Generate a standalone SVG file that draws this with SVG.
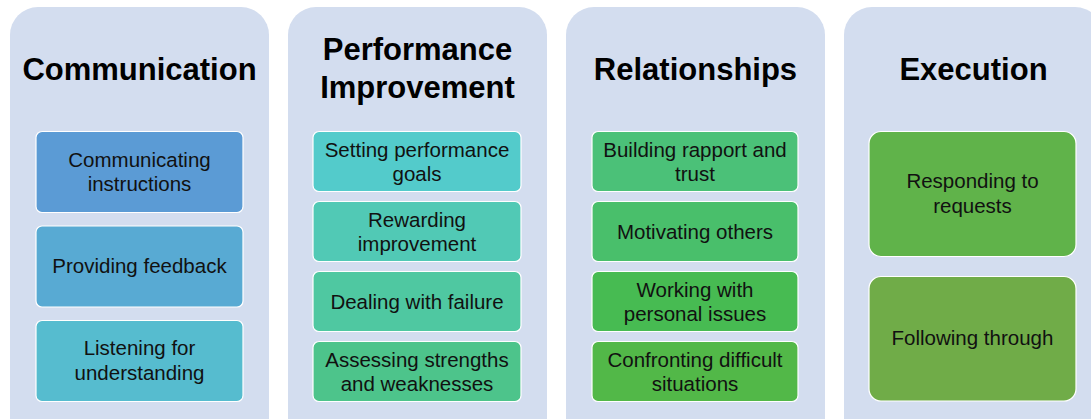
<svg xmlns="http://www.w3.org/2000/svg" width="1091" height="419" viewBox="0 0 1091 419">
<style>
.bg{fill:#d3ddef}
.box{stroke:#ffffff;stroke-width:1.2}
.title{font-family:"Liberation Sans",Arial,sans-serif;font-weight:bold;font-size:31px;fill:#000;text-anchor:middle}
.lbl{font-family:"Liberation Sans",Arial,sans-serif;font-size:20.5px;fill:#111;text-anchor:middle}
</style>
<rect width="1091" height="419" fill="#ffffff"/>
<g id="col-communication">
<rect class="bg" x="10" y="7" width="259" height="440" rx="28"/>
<text class="title" x="139.5" y="80">Communication</text>
</g>
<g id="col-performance">
<rect class="bg" x="288" y="7" width="259" height="440" rx="28"/>
<text class="title" x="417.5" y="60">Performance</text>
<text class="title" x="417.5" y="98">Improvement</text>
</g>
<g id="col-relationships">
<rect class="bg" x="566" y="7" width="259" height="440" rx="28"/>
<text class="title" x="695.5" y="80">Relationships</text>
</g>
<g id="col-execution">
<rect class="bg" x="844" y="7" width="259" height="440" rx="28"/>
<text class="title" x="973.5" y="80">Execution</text>
</g>

<g id="n-communicating-instructions">
<rect class="box" x="36" y="131.5" width="207" height="81" rx="6" fill="#5b9bd5"/>
<text class="lbl" x="139.5" y="166.5">Communicating</text>
<text class="lbl" x="139.5" y="191">instructions</text>
</g>
<g id="n-providing-feedback">
<rect class="box" x="36" y="226" width="207" height="81" rx="6" fill="#58aad3"/>
<text class="lbl" x="139.5" y="273">Providing feedback</text>
</g>
<g id="n-listening">
<rect class="box" x="36" y="320.5" width="207" height="81" rx="6" fill="#56bccf"/>
<text class="lbl" x="139.5" y="355">Listening for</text>
<text class="lbl" x="139.5" y="379.5">understanding</text>
</g>

<g id="n-setting-goals">
<rect class="box" x="313" y="131.5" width="208" height="60" rx="6" fill="#53cbcb"/>
<text class="lbl" x="417" y="156.5">Setting performance</text>
<text class="lbl" x="417" y="180.5">goals</text>
</g>
<g id="n-rewarding">
<rect class="box" x="313" y="201.5" width="208" height="60" rx="6" fill="#51c9b5"/>
<text class="lbl" x="417" y="226.5">Rewarding</text>
<text class="lbl" x="417" y="250.5">improvement</text>
</g>
<g id="n-dealing-failure">
<rect class="box" x="313" y="271.5" width="208" height="60" rx="6" fill="#4fc8a1"/>
<text class="lbl" x="417" y="308.5">Dealing with failure</text>
</g>
<g id="n-assessing">
<rect class="box" x="313" y="341.5" width="208" height="60" rx="6" fill="#4dc48b"/>
<text class="lbl" x="417" y="366.5">Assessing strengths</text>
<text class="lbl" x="417" y="390.5">and weaknesses</text>
</g>

<g id="n-building-rapport">
<rect class="box" x="592" y="131.5" width="206" height="60" rx="6" fill="#4bc178"/>
<text class="lbl" x="695" y="156.5">Building rapport and</text>
<text class="lbl" x="695" y="180.5">trust</text>
</g>
<g id="n-motivating">
<rect class="box" x="592" y="201.5" width="206" height="60" rx="6" fill="#49bf6b"/>
<text class="lbl" x="695" y="238.5">Motivating others</text>
</g>
<g id="n-personal-issues">
<rect class="box" x="592" y="271.5" width="206" height="60" rx="6" fill="#47bb52"/>
<text class="lbl" x="695" y="296.5">Working with</text>
<text class="lbl" x="695" y="320.5">personal issues</text>
</g>
<g id="n-confronting">
<rect class="box" x="592" y="341.5" width="206" height="60" rx="6" fill="#52b848"/>
<text class="lbl" x="695" y="366.5">Confronting difficult</text>
<text class="lbl" x="695" y="390.5">situations</text>
</g>

<g id="n-responding">
<rect class="box" x="869" y="131.5" width="207" height="125" rx="12" fill="#60b34a"/>
<text class="lbl" x="972.5" y="188">Responding to</text>
<text class="lbl" x="972.5" y="212.5">requests</text>
</g>
<g id="n-following-through">
<rect class="box" x="869" y="276.5" width="207" height="124.5" rx="12" fill="#70ac48"/>
<text class="lbl" x="972.5" y="345">Following through</text>
</g>
</svg>
